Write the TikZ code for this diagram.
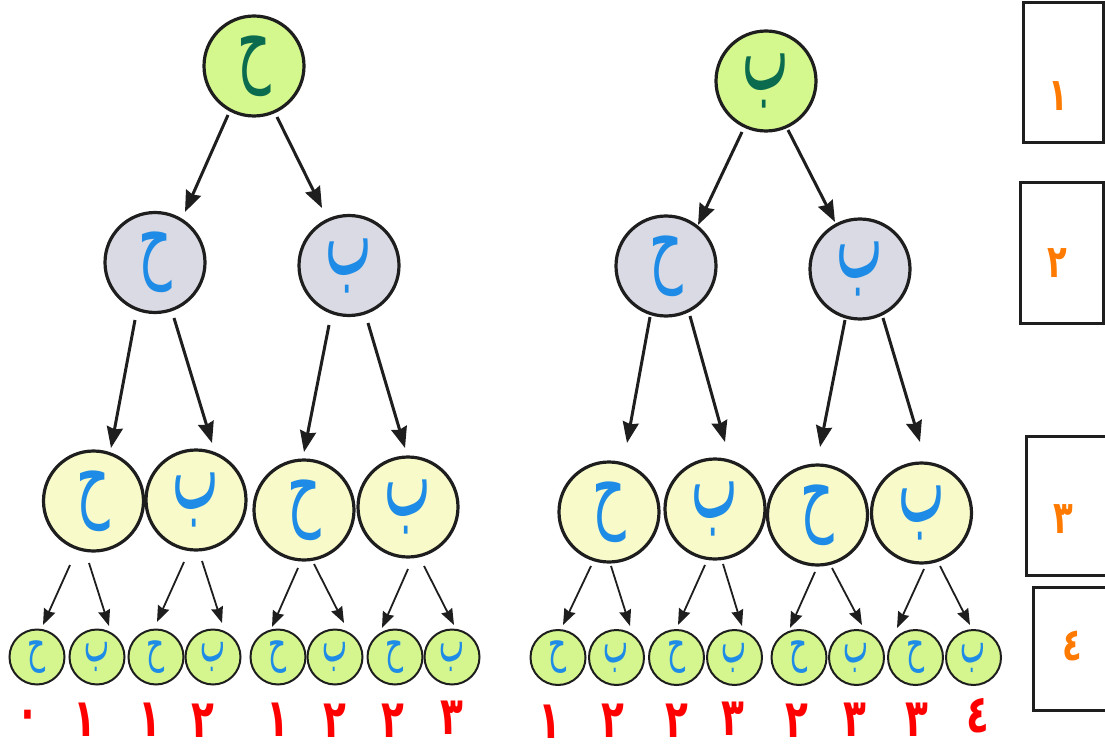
\documentclass[tikz,border=0pt]{standalone}
\usepackage{fontspec}
\usetikzlibrary{arrows.meta}
\TeXXeTstate=1
\newfontfamily\arabicfont[Script=Arabic]{DejaVu Sans}

\definecolor{rootfill}{HTML}{D4F78E}
\definecolor{midfill}{HTML}{D9DAE3}
\definecolor{lowfill}{HTML}{F8FBC9}
\definecolor{leaffill}{HTML}{D5F68E}
\definecolor{rootink}{HTML}{0B6B4E}
\definecolor{letterink}{HTML}{1E8CE6}
\definecolor{countink}{HTML}{FF0000}
\definecolor{levelink}{HTML}{FF7A00}
\definecolor{edgeink}{HTML}{1E1E1E}

\tikzset{
  bignode/.style={circle, draw=edgeink, line width=3.2pt, inner sep=0pt,
    minimum size=100pt, text=letterink,
    font=\arabicfont\fontsize{52}{52}\selectfont},
  rootnode/.style={bignode, fill=rootfill, text=rootink},
  midnode/.style={bignode, fill=midfill},
  lownode/.style={bignode, fill=lowfill},
  leafnode/.style={circle, draw=edgeink, line width=2pt, inner sep=0pt,
    minimum size=55pt, fill=leaffill, text=letterink,
    font=\arabicfont\fontsize{28}{28}\selectfont},
  bigarrow/.style={draw=edgeink, line width=3pt,
    -{Stealth[length=21pt,width=16pt,inset=2pt]}},
  smallarrow/.style={draw=edgeink, line width=1.8pt,
    -{Stealth[length=16pt,width=12pt,inset=1.5pt]}},
  countlabel/.style={anchor=center, inner sep=0pt, text=countink,
    font=\arabicfont\bfseries\fontsize{44}{44}\selectfont},
  levelbox/.style={draw=edgeink, line width=3pt},
  levellabel/.style={inner sep=0pt, text=levelink,
    font=\arabicfont\bfseries\fontsize{38}{38}\selectfont},
}

% hand-drawn style letters: taller than the font's own shapes
\newcommand{\haa}{\scalebox{1.0}[1.75]{\beginR ح\endR}}
\newcommand{\baa}{\scalebox{0.95}[2.1]{\beginR ب\endR}}
\newcommand{\ar}[1]{\scalebox{0.85}[1.2]{\beginR #1\endR}}

\begin{document}
\begin{tikzpicture}[x=1pt,y=-1pt]
\useasboundingbox (0,0) rectangle (1105,751);
\clip (0,0) rectangle (1105,751);

% ---------- left tree ----------
\node[rootnode] (A) at (254,66) {\haa};
\node[midnode] (B1) at (155,262.5) {\haa};
\node[midnode] (B2) at (349,265.5) {\baa};
\node[lownode] (C1) at (93.5,501) {\haa};
\node[lownode] (C2) at (196,500) {\baa};
\node[lownode] (C3) at (304,510) {\haa};
\node[lownode] (C4) at (408,507) {\baa};
\node[leafnode] (D1) at (37,657) {\haa};
\node[leafnode] (D2) at (97,657) {\baa};
\node[leafnode] (D3) at (156,657) {\haa};
\node[leafnode] (D4) at (213,657) {\baa};
\node[leafnode] (D5) at (278,657) {\haa};
\node[leafnode] (D6) at (335,657) {\baa};
\node[leafnode] (D7) at (395,657) {\haa};
\node[leafnode] (D8) at (452,657) {\baa};

\draw[bigarrow] ([shift={(-26,49)}]A.center) -- ([shift={(30,-50.5)}]B1.center);
\draw[bigarrow] ([shift={(23,51)}]A.center) -- ([shift={(-27,-57.5)}]B2.center);
\draw[bigarrow] ([shift={(-20,57.5)}]B1.center) -- ([shift={(17.5,-53)}]C1.center);
\draw[bigarrow] ([shift={(19,55.5)}]B1.center) -- ([shift={(16,-57)}]C2.center);
\draw[bigarrow] ([shift={(-20,59.5)}]B2.center) -- ([shift={(0,-58)}]C3.center);
\draw[bigarrow] ([shift={(19,57.5)}]B2.center) -- ([shift={(-3,-59)}]C4.center);

\draw[smallarrow] ([shift={(-23.5,64)}]C1.center) -- ([shift={(6,-32)}]D1.center);
\draw[smallarrow] ([shift={(-4.5,62)}]C1.center) -- ([shift={(12,-31)}]D2.center);
\draw[smallarrow] ([shift={(-12,62)}]C2.center) -- ([shift={(1,-35)}]D3.center);
\draw[smallarrow] ([shift={(6,61)}]C2.center) -- ([shift={(9,-34)}]D4.center);
\draw[smallarrow] ([shift={(-6,58)}]C3.center) -- ([shift={(-6,-30)}]D5.center);
\draw[smallarrow] ([shift={(10,54)}]C3.center) -- ([shift={(9,-34)}]D6.center);
\draw[smallarrow] ([shift={(0,62)}]C4.center) -- ([shift={(-13,-29)}]D7.center);
\draw[smallarrow] ([shift={(16,59)}]C4.center) -- ([shift={(2,-32)}]D8.center);

\node[countlabel] (n1) at (28,720) {\ar{٠}};
\node[countlabel] (n2) at (85,720) {\ar{١}};
\node[countlabel] (n3) at (150,720) {\ar{١}};
\node[countlabel] (n4) at (203,721) {\ar{٢}};
\node[countlabel] (n5) at (278,720) {\ar{١}};
\node[countlabel] (n6) at (335,721) {\ar{٢}};
\node[countlabel] (n7) at (393,721) {\ar{٢}};
\node[countlabel] (n8) at (452,718) {\ar{٣}};

% ---------- right tree ----------
\node[rootnode] (E) at (766,81) {\baa};
\node[midnode] (F1) at (666,266) {\haa};
\node[midnode] (F2) at (860,269) {\baa};
\node[lownode] (G1) at (609,512) {\haa};
\node[lownode] (G2) at (715,509) {\baa};
\node[lownode] (G3) at (817.5,515) {\haa};
\node[lownode] (G4) at (921.5,513) {\baa};
\node[leafnode] (H1) at (558,657.5) {\haa};
\node[leafnode] (H2) at (616.5,657.5) {\baa};
\node[leafnode] (H3) at (676.5,657.5) {\haa};
\node[leafnode] (H4) at (734.5,657.5) {\baa};
\node[leafnode] (H5) at (799,657.5) {\haa};
\node[leafnode] (H6) at (856.5,657.5) {\baa};
\node[leafnode] (H7) at (915.5,657.5) {\haa};
\node[leafnode] (H8) at (973.5,657.5) {\baa};

\draw[bigarrow] ([shift={(-24,51)}]E.center) -- ([shift={(32,-41)}]F1.center);
\draw[bigarrow] ([shift={(22,49)}]E.center) -- ([shift={(-25,-47)}]F2.center);
\draw[bigarrow] ([shift={(-16,51)}]F1.center) -- ([shift={(18,-69)}]G1.center);
\draw[bigarrow] ([shift={(24,50)}]F1.center) -- ([shift={(10,-67)}]G2.center);
\draw[bigarrow] ([shift={(-15,51)}]F2.center) -- ([shift={(2.5,-68)}]G3.center);
\draw[bigarrow] ([shift={(23,49)}]F2.center) -- ([shift={(-1.5,-71)}]G4.center);

\draw[smallarrow] ([shift={(-18,54)}]G1.center) -- ([shift={(5,-32.5)}]H1.center);
\draw[smallarrow] ([shift={(2,54)}]G1.center) -- ([shift={(13.5,-31.5)}]H2.center);
\draw[smallarrow] ([shift={(-10,56)}]G2.center) -- ([shift={(1.5,-32.5)}]H3.center);
\draw[smallarrow] ([shift={(8,55)}]G2.center) -- ([shift={(7.5,-31.5)}]H4.center);
\draw[smallarrow] ([shift={(-2.5,57)}]G3.center) -- ([shift={(-9,-29.5)}]H5.center);
\draw[smallarrow] ([shift={(14.5,53)}]G3.center) -- ([shift={(5.5,-32.5)}]H6.center);
\draw[smallarrow] ([shift={(2.5,56)}]G4.center) -- ([shift={(-18.5,-29.5)}]H7.center);
\draw[smallarrow] ([shift={(18.5,53)}]G4.center) -- ([shift={(-3.5,-32.5)}]H8.center);

\node[countlabel] (m1) at (550,722) {\ar{١}};
\node[countlabel] (m2) at (613,721) {\ar{٢}};
\node[countlabel] (m3) at (677,721) {\ar{٢}};
\node[countlabel] (m4) at (733,719) {\ar{٣}};
\node[countlabel] (m5) at (797,721) {\ar{٢}};
\node[countlabel] (m6) at (855,720) {\ar{٣}};
\node[countlabel] (m7) at (917,720) {\ar{٣}};
\node[countlabel] (m8) at (978,716) {\ar{٤}};

% ---------- level boxes ----------
\draw[levelbox] (1023,3) rectangle (1103,143);
\draw[levelbox] (1020,183) rectangle (1103,323);
\draw[levelbox] (1026,436) rectangle (1108,575);
\draw[levelbox] (1033,587) rectangle (1108,710);
\node[levellabel] (L1) at (1058,96) {\ar{١}};
\node[levellabel] (L2) at (1057,263) {\ar{٢}};
\node[levellabel] (L3) at (1063,519) {\ar{٣}};
\node[levellabel] (L4) at (1072,646) {\ar{٤}};
\end{tikzpicture}
\end{document}
